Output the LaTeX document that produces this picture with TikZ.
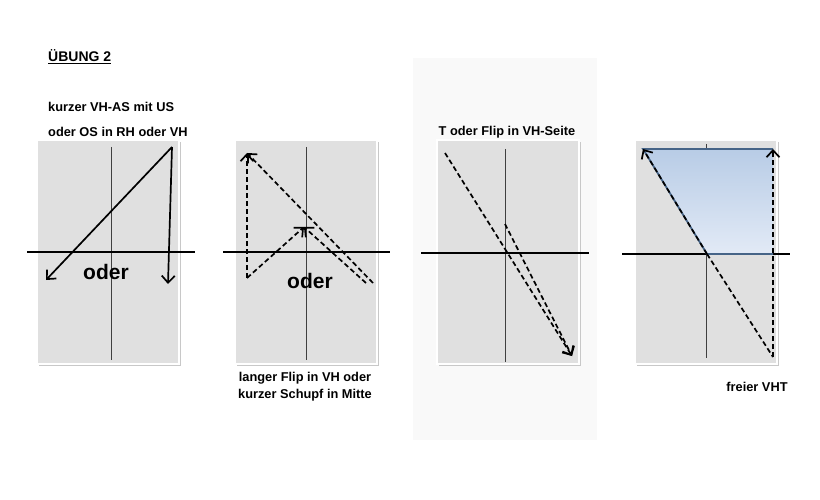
\documentclass[tikz,border=0pt]{standalone}
\usepackage{fontspec}
\setmainfont{Liberation Sans}
\usetikzlibrary{arrows.meta}
\definecolor{panelgray}{RGB}{224,224,224}
\definecolor{shadowgray}{RGB}{200,200,200}
\definecolor{blueTop}{RGB}{184,204,230}
\definecolor{blueBot}{RGB}{226,234,246}
\definecolor{blueEdge}{RGB}{70,100,135}
\definecolor{backwhite}{RGB}{249,249,249}
\begin{document}
\begin{tikzpicture}[x=1pt,y=-1pt,
  panelbox/.style={fill=panelgray, draw=white, line width=1.6pt},
  axisline/.style={line width=2.3pt, black},
  midline/.style={line width=0.7pt, black!75},
  solidarrow/.style={line width=1.7pt, -{Straight Barb[length=7pt,width=13pt]}},
  dasharrow/.style={line width=1.7pt, dash pattern=on 5pt off 3pt, -{Straight Barb[length=7pt,width=13pt]}},
  dashline/.style={line width=1.7pt, dash pattern=on 5pt off 3pt},
  lbl/.style={font=\fontsize{12.8}{15}\selectfont\bfseries, inner sep=0pt},
  bigword/.style={font=\fontsize{21}{24}\selectfont\bfseries, inner sep=0pt}]
\useasboundingbox (0,0) rectangle (820,500);
\fill[white] (0,0) rectangle (820,500);
% light background behind panel 3
\fill[backwhite] (413,58) rectangle (597,440);

% titles
\node[lbl, anchor=west, font=\fontsize{14}{16}\selectfont\bfseries] (title) at (48,57) {\underline{ÜBUNG 2}};
\node[lbl, anchor=west] (t1a) at (48,107) {kurzer VH-AS mit US};
\node[lbl, anchor=west] (t1b) at (48,132) {oder OS in RH oder VH};
\node[lbl] (t3) at (507,132) {T oder Flip in VH-Seite};
\node[lbl] (c2a) at (305,378) {langer Flip in VH oder};
\node[lbl] (c2b) at (305,395) {kurzer Schupf in Mitte};
\node[lbl] (c4) at (757,387) {freier VHT};

% panels
\foreach \x in {37,235,437,635}{
  \fill[shadowgray] (\x+2,142) rectangle (\x+144,366);
  \draw[panelbox] (\x,140) rectangle (\x+142,364);
}

% ---------- panel 1 ----------
\draw[midline] (111,147) -- (111,360);
\draw[axisline] (27,252) -- (195,252);
\coordinate (p1top) at (172,147);
\coordinate (p1a) at (46,280);
\coordinate (p1b) at (168,284);
\draw[solidarrow] (p1top) -- (p1a);
\draw[solidarrow] (p1top) -- (p1b);
\node[bigword] (oder1) at (106,272) {oder};

% ---------- panel 2 ----------
\draw[midline] (306,147) -- (306,360);
\draw[axisline] (223,252) -- (390,252);
\coordinate (p2tl) at (247,153);
\coordinate (p2bl) at (247,278);
\coordinate (p2br) at (373,283);
\coordinate (p2br2) at (366,283);
\coordinate (p2mid) at (304,227);
\draw[dasharrow] (p2bl) -- (p2tl);
\draw[dasharrow] (p2br) -- (p2tl);
\draw[dasharrow] (p2bl) -- (p2mid);
\draw[dasharrow] (p2br2) -- (p2mid);
\node[bigword] (oder2) at (310,281) {oder};

% ---------- panel 3 ----------
\draw[midline] (505,149) -- (505,362);
\draw[axisline] (421,253) -- (589,253);
\coordinate (p3a) at (445,153);
\coordinate (p3b) at (505,224);
\coordinate (p3end) at (572,356);
\draw[dasharrow] (p3b) -- (p3end);
\draw[dasharrow] (p3a) -- (p3end);

% ---------- panel 4 ----------
\draw[midline] (706,144) -- (706,358);
\coordinate (p4tl) at (643,149);
\coordinate (p4tr) at (773,149);
\coordinate (p4br) at (773,254);
\coordinate (p4c) at (707,254);
\coordinate (p4bot) at (773,357);
\shade[top color=blueTop, bottom color=blueBot] (p4tl) -- (p4tr) -- (p4br) -- (p4c) -- cycle;
\draw[axisline] (622,254) -- (790,254);
\draw[blueEdge, line width=1.8pt] (p4tr) -- (p4tl) -- (p4c) -- (p4br);
\draw[dasharrow] (p4c) -- (p4tl);
\draw[dashline] (p4c) -- (p4bot);
\draw[dasharrow] (p4bot) -- (p4tr);
\end{tikzpicture}
\end{document}
